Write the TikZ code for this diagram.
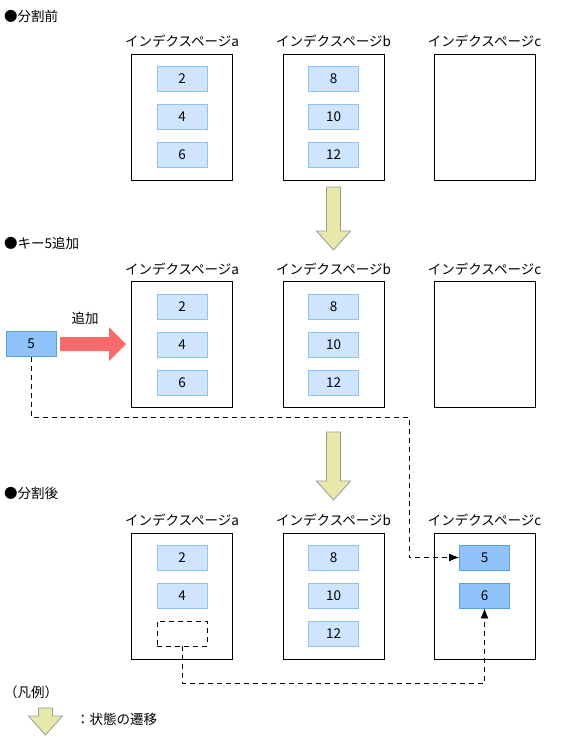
\documentclass[tikz,border=0pt]{standalone}
\usepackage{fontspec}
\setmainfont{Noto Sans CJK JP}
\usetikzlibrary{arrows,arrows.meta,positioning}

\definecolor{keyfill}{HTML}{CFE4FF}
\definecolor{keyline}{HTML}{8EC1F5}
\definecolor{newfill}{HTML}{8FC3FA}
\definecolor{newline}{HTML}{5A9EEA}
\definecolor{flowfill}{HTML}{E8E8AA}
\definecolor{flowline}{HTML}{999999}
\definecolor{addfill}{HTML}{F76B6B}

\begin{document}
\begin{tikzpicture}[x=1pt,y=-1pt,>={Latex[length=10pt,width=8pt]},node distance=38pt,
    every node/.style={font=\fontsize{13.5}{15}\selectfont},
    page/.style={draw,line width=0.9pt,minimum width=101pt,minimum height=126pt},
    key/.style={draw=keyline,fill=keyfill,line width=0.8pt,inner sep=0pt,
      minimum width=50pt,minimum height=25pt},
    newkey/.style={key,draw=newline,fill=newfill},
    hole/.style={draw,dash pattern=on 5pt off 4pt,line width=0.8pt,
      minimum width=50pt,minimum height=25pt},
    title/.style={anchor=west,inner sep=0pt},
    caption/.style={inner sep=0pt},
    link/.style={dash pattern=on 5pt off 4pt,line width=0.8pt},
    pics/flow/.style={code={
      \filldraw[draw=flowline,fill=flowfill,line width=0.8pt]
        (-7,0) -- (7,0) -- (7,#1-19) -- (17,#1-19) -- (0,#1)
        -- (-17,#1-19) -- (-7,#1-19) -- cycle;}}]
    \useasboundingbox (0,0) rectangle (564,738);

    % before split
    \node[title] (h1) at (4,16) {●分割前};
    \node[page] (pa1) at (182,117) {};
    \node[page] (pb1) at (333.5,117) {};
    \node[page] (pc1) at (484.5,117) {};
    \node[caption,above=6pt of pa1] {インデクスページa};
    \node[caption,above=6pt of pb1] {インデクスページb};
    \node[caption,above=6pt of pc1] {インデクスページc};
    \node[key] (a1) at (182,79) {2};
    \node[key,below of=a1] (a2) {4};
    \node[key,below of=a2] (a3) {6};
    \node[key] (b1) at (333.5,79) {8};
    \node[key,below of=b1] (b2) {10};
    \node[key,below of=b2] (b3) {12};
    \pic at (333.5,187) {flow=63};

    % insert key 5
    \node[title] (h2) at (4,243) {●キー5追加};
    \node[page] (pa2) at (182,344.5) {};
    \node[page] (pb2) at (333.5,344.5) {};
    \node[page] (pc2) at (484.5,344.5) {};
    \node[caption,above=6pt of pa2] {インデクスページa};
    \node[caption,above=6pt of pb2] {インデクスページb};
    \node[caption,above=6pt of pc2] {インデクスページc};
    \node[key] (a4) at (182,306.5) {2};
    \node[key,below of=a4] (a5) {4};
    \node[key,below of=a5] (a6) {6};
    \node[key] (b4) at (333.5,306.5) {8};
    \node[key,below of=b4] (b5) {10};
    \node[key,below of=b5] (b6) {12};
    \node[newkey] (k5) at (31,344) {5};
    \fill[addfill] (60,337) -- (109,337) -- (109,327) -- (126,344)
      -- (109,361) -- (109,351) -- (60,351) -- cycle;
    \node[caption] (add) at (85,318) {追加};
    \pic at (333.5,432) {flow=68};

    % after split
    \node[title] (h3) at (4,493) {●分割後};
    \node[page] (pa3) at (182,596) {};
    \node[page] (pb3) at (333.5,596) {};
    \node[page] (pc3) at (484.5,596) {};
    \node[caption,above=6pt of pa3] {インデクスページa};
    \node[caption,above=6pt of pb3] {インデクスページb};
    \node[caption,above=6pt of pc3] {インデクスページc};
    \node[key] (a7) at (182,557.5) {2};
    \node[key,below of=a7] (a8) {4};
    \node[hole,below of=a8] (gap) {};
    \node[key] (b7) at (333.5,557.5) {8};
    \node[key,below of=b7] (b8) {10};
    \node[key,below of=b8] (b9) {12};
    \node[newkey] (c5) at (484.5,557.5) {5};
    \node[newkey,below of=c5] (c6) {6};

    % moves
    \coordinate (turn) at ([xshift=-50pt]c5.west);
    \draw[link,->] (k5.south) -- ++(0,60) -| (turn) -- (c5.west);
    \draw[link,->] (gap.south) -- ++(0,37) -| (c6.south);

    % legend
    \node[title] (leg) at (4,692) {（凡例）};
    \pic at (45.5,708) {flow=27};
    \node[title] (legtext) at (76,719) {：状態の遷移};
\end{tikzpicture}
\end{document}
